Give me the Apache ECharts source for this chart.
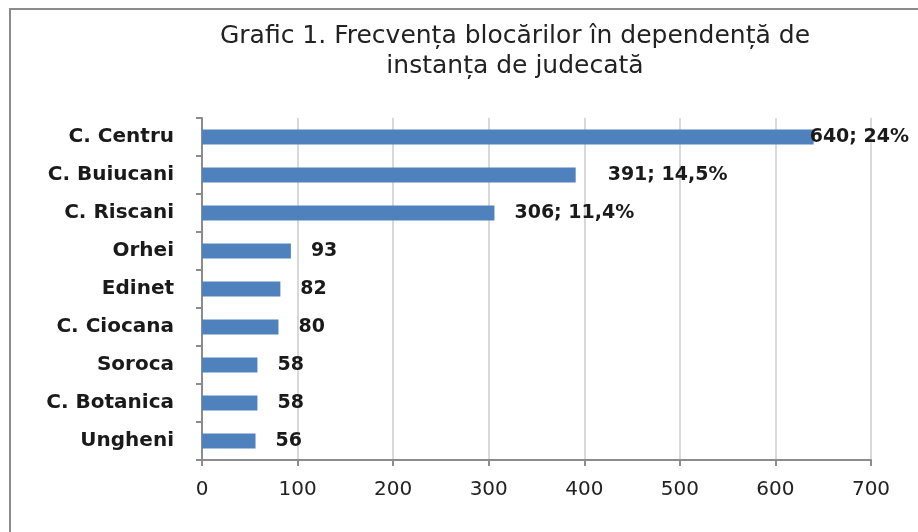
<!DOCTYPE html>
<html>
<head>
<meta charset="utf-8">
<script src="https://cdn.jsdelivr.net/npm/echarts@6/dist/echarts.min.js"></script>
<style>
  html, body { margin: 0; padding: 0; background: #fff; overflow: hidden; }
  #frame {
    position: absolute; left: 9px; top: 8px; width: 930px; height: 540px;
    border: 2px solid #8c8c8c; box-sizing: border-box;
  }
  #chart { position: absolute; left: 0; top: 0; width: 918px; height: 532px; }
</style>
</head>
<body>
<div id="frame"></div>
<div id="chart"></div>
<script>
// ─── 資料 ────────────────────────────────────────
const categories = ['C. Centru', 'C. Buiucani', 'C. Riscani', 'Orhei', 'Edinet',
                    'C. Ciocana', 'Soroca', 'C. Botanica', 'Ungheni']
const values     = [640, 391, 306, 93, 82, 80, 58, 58, 56]
const labelTexts = ['640; 24%', '391; 14,5%', '306; 11,4%', '93', '82', '80', '58', '58', '56']
const xTicks     = [0, 100, 200, 300, 400, 500, 600, 700]

const titleText = 'Grafic 1. Frecvența blocărilor în dependență de\ninstanța de judecată'

const chart = echarts.init(document.getElementById('chart'))

// 標籤距離：第一條壓在柱尾，第二條離遠一點
const labelGap = i => (i === 0 ? -4 : i === 1 ? 32 : 20)

chart.setOption({
  animation: false,
  title: {
    text: titleText,
    left: 510,
    top: 16,
    textAlign: 'center',
    textStyle: {
      fontFamily: 'DejaVu Sans',
      fontSize: 25,
      fontWeight: 'normal',
      color: '#222',
      lineHeight: 30,
    },
  },
  grid: { left: 202, right: 47, top: 118, bottom: 72 },
  xAxis: {
    type: 'value',
    min: xTicks[0],
    max: xTicks[xTicks.length - 1],
    interval: 100,
    axisLine: { show: true, lineStyle: { color: '#8c8c8c', width: 2 } },
    axisTick: { show: true, length: 6, lineStyle: { color: '#8c8c8c', width: 2 } },
    axisLabel: {
      margin: 20,
      fontFamily: 'DejaVu Sans',
      fontSize: 20,
      color: '#222',
    },
    splitLine: { show: true, lineStyle: { color: '#d9d9d9', width: 2 } },
  },
  yAxis: {
    type: 'category',
    inverse: true,
    data: categories,
    axisLine: { show: true, lineStyle: { color: '#8c8c8c', width: 2 } },
    axisTick: { show: true, length: 6, lineStyle: { color: '#8c8c8c', width: 2 } },
    axisLabel: {
      margin: 28,
      fontFamily: 'DejaVu Sans',
      fontSize: 20,
      fontWeight: 'bold',
      color: '#1a1a1a',
    },
  },
  series: [{
    type: 'bar',
    barWidth: 15,
    itemStyle: { color: '#4f81bd' },
    data: values.map((v, i) => ({
      value: v,
      label: {
        show: true,
        position: 'right',
        distance: labelGap(i),
        formatter: labelTexts[i],
        fontFamily: 'DejaVu Sans',
        fontSize: 19,
        fontWeight: 'bold',
        color: '#1a1a1a',
      },
    })),
  }],
})
</script>
</body>
</html>
